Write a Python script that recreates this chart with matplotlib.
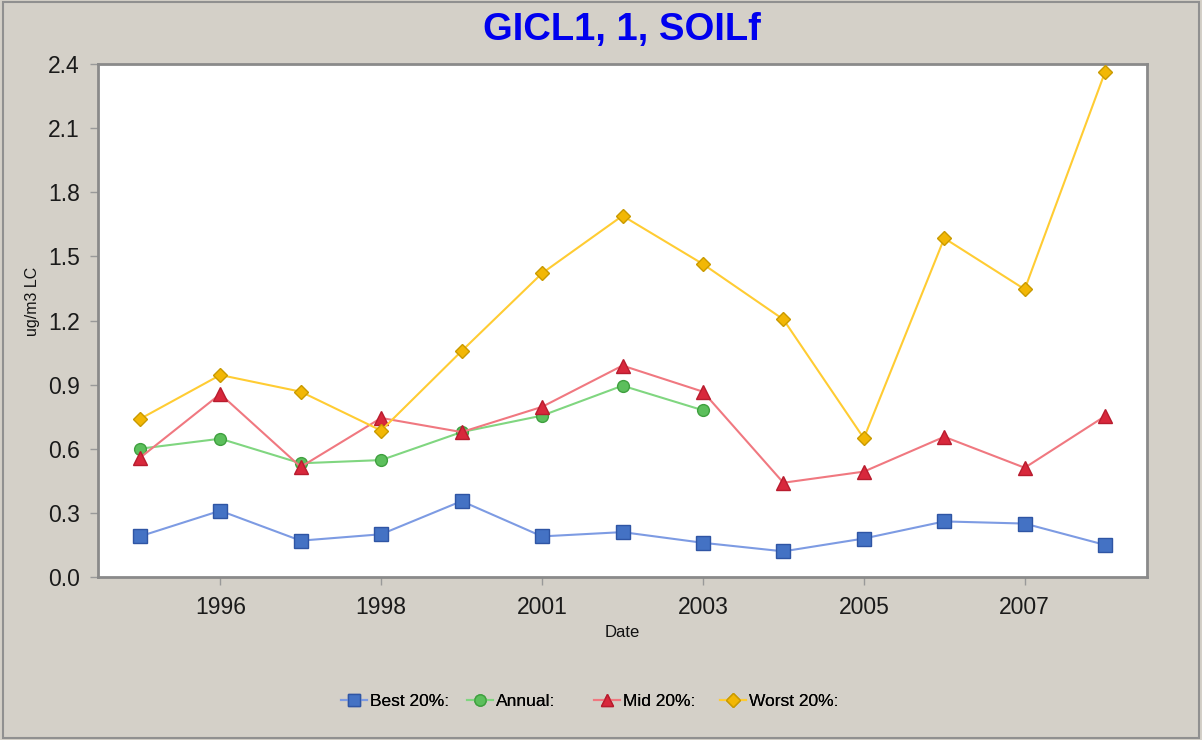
import matplotlib
matplotlib.use("Agg")
import matplotlib.pyplot as plt
from matplotlib.lines import Line2D
from matplotlib.patches import Rectangle

plt.rcParams['font.family'] = ['Liberation Sans', 'DejaVu Sans']

# ---- data ----
years = [1995, 1996, 1997, 1998, 2000, 2001, 2002, 2003, 2004, 2005, 2006, 2007, 2008]
tick_labels = ["1996", "1998", "2001", "2003", "2005", "2007"]
best = [0.19, 0.31, 0.17, 0.20, 0.355, 0.19, 0.21, 0.16, 0.12, 0.18, 0.26, 0.25, 0.15]
annual = [0.60, 0.647, 0.532, 0.547, 0.678, 0.755, 0.895, 0.78]
mid = [0.557, 0.856, 0.515, 0.744, 0.678, 0.796, 0.989, 0.867, 0.441, 0.493, 0.656, 0.511, 0.753]
worst = [0.739, 0.945, 0.867, 0.685, 1.057, 1.421, 1.69, 1.464, 1.205, 0.649, 1.585, 1.346, 2.364]
series_names = ["Best 20%:", "Annual:", "Mid 20%:", "Worst 20%:"]
yticks = [0.0, 0.3, 0.6, 0.9, 1.2, 1.5, 1.8, 2.1, 2.4]

bg = '#D4D0C8'
fig = plt.figure(figsize=(12.02, 7.40), dpi=100, facecolor=bg)
ax = fig.add_axes([98/1202, 1-577/740, (1147-98)/1202, (577-64)/740])
ax.set_facecolor('white')

x = list(range(len(years)))
styles = [
    dict(data=best, color='#7D9BE3', marker='s', mfc='#4472C4', mec='#2F55A4', ms=9.5),
    dict(data=annual, color='#80D680', marker='o', mfc='#5CBF5C', mec='#3FA03F', ms=8.5),
    dict(data=mid, color='#F07880', marker='^', mfc='#D8283C', mec='#B81C2E', ms=9.5),
    dict(data=worst, color='#FFCC33', marker='D', mfc='#F2B705', mec='#C99A00', ms=7),
]
handles = []
for st, name in zip(styles, series_names):
    d = st['data']
    ax.plot(x[:len(d)], d, color=st['color'], lw=1.5, marker=st['marker'],
            markerfacecolor=st['mfc'], markeredgecolor=st['mec'], markersize=st['ms'],
            markeredgewidth=1.0, zorder=3)
    handles.append(Line2D([], [], color=st['color'], lw=1.5, marker=st['marker'],
                          markerfacecolor=st['mfc'], markeredgecolor=st['mec'],
                          markersize=st['ms'] * 0.95, markeredgewidth=1.0))

ax.set_xlim(-0.52, 12.52)
ax.set_ylim(0, 2.4)
ax.set_yticks(yticks)
ax.set_yticklabels([f"{v:.1f}" for v in yticks])
ax.set_xticks([1, 3, 5, 7, 9, 11])
ax.set_xticklabels(tick_labels)
ax.tick_params(axis='both', direction='out', length=6, width=1, color='#999999',
               labelsize=16.5, labelcolor='#1a1a1a')
ax.tick_params(axis='y', pad=7)
ax.tick_params(axis='x', pad=8)
for sp in ax.spines.values():
    sp.set_color('#8a8a8a')
    sp.set_linewidth(2)

ax.set_ylabel("ug/m3 LC", fontsize=11.5, color='#111111')
ax.yaxis.set_label_coords(-0.0553, 0.538)
ax.set_xlabel("Date", fontsize=12, color='#111111', labelpad=4)
ax.text(622/1202, 1 - 30/740, "GICL1, 1, SOILf", transform=fig.transFigure, ha='center', va='center',
        fontsize=27.5, fontweight='bold', color='#0000EE')

# legend entries in fixed-width slots
slot_x = [341, 467, 594, 720]
for h, name, sx in zip(handles, series_names, slot_x):
    leg = fig.legend([h], [name], loc='center left', bbox_to_anchor=(sx/1202, 1-701/740),
                     frameon=False, fontsize=12.5, handlelength=1.5, handletextpad=0.15,
                     borderaxespad=0, borderpad=0)
    fig.add_artist(leg)

# figure border
fig.patches.append(Rectangle((3/1202, 2/740), 1196/1202, 736/740, transform=fig.transFigure,
                             fill=False, edgecolor='#909090', lw=1.5))

fig.savefig("out.png", dpi=100, facecolor=bg)
